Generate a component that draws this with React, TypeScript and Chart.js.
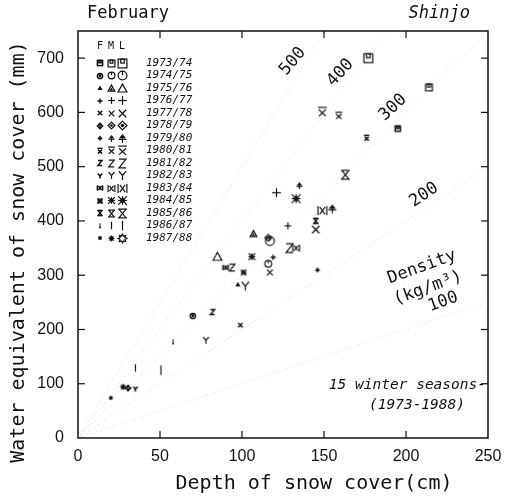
import React, { useEffect, useRef } from 'react';
import { Chart, registerables } from 'chart.js';
Chart.register(...registerables);

// ---- data ----
const seasons = ['1973/74','1974/75','1975/76','1976/77','1977/78','1978/79','1979/80','1980/81','1981/82','1982/83','1983/84','1984/85','1985/86','1986/87','1987/88'];
const phases = ['F', 'M', 'L'];

// observations (season index, phase index, depth cm, water equivalent mm)
const obsSeason = [0,0,0, 1,1,1, 2,2,2, 3,3,3, 4,4,4, 5,5, 6,6,6, 7,7,7, 8,8,8, 9,9,9, 10,10,10, 11,11,11, 12,12, 13,13,13, 14,14];
const obsPhase  = [2,1,0, 0,1,2, 0,1,2, 0,1,2, 0,1,2, 0,1, 0,1,2, 0,1,2, 0,1,2, 0,1,2, 0,1,2, 0,1,2, 0,2, 0,1,2, 0,1];
const obsDepth  = [177,214,195, 70,116,117, 97.5,107,85, 119,128,121, 99,117,145, 30.5,116, 146,135,155, 176,159,149, 82,94,129, 35,78,102, 90,133,149, 101,106,133, 145,163, 58,35,50.6, 20,27.5];
const obsSWE    = [700,646,570, 225,321,363, 283,376,334, 333,391,452, 208,305,384, 92,369, 310,465,422, 553,594,601, 232,314,350, 90,180,280, 314,350,419, 305,334,441, 400,485, 177,129,125, 74,94];

const xTicks = [0, 50, 100, 150, 200, 250];
const yTicks = [0, 100, 200, 300, 400, 500, 600, 700];
const densities = [100, 200, 300, 400, 500];
// density label anchor (depth, swe) and rotation (deg)
const densLabelDepth = [222.6, 211, 192, 160, 131];
const densLabelSWE = [251, 448, 609, 673, 694];
const densLabelRot = [-20, -34, -43, -47, -50];

const MONO = '"DejaVu Sans Mono", monospace';
const SANS = '"Liberation Sans", Arial, sans-serif';

function makeGlyph(type: number, phase: number): HTMLCanvasElement {
  const s = [2.6, 3.4, 4.4][phase];
  const size = Math.ceil(2 * s + 6);
  const c = document.createElement('canvas');
  c.width = size; c.height = size;
  const g = c.getContext('2d')!;
  g.translate(size / 2, size / 2);
  g.strokeStyle = '#111'; g.fillStyle = '#111';
  g.lineWidth = phase === 0 ? 1.5 : 1.2;
  const line = (x1: number, y1: number, x2: number, y2: number) => { g.beginPath(); g.moveTo(x1, y1); g.lineTo(x2, y2); g.stroke(); };
  switch (type) {
    case 0:
      g.strokeRect(-s, -s, 2 * s, 2 * s);
      g.strokeRect(-s * 0.4, -s, s * 0.8, s * 0.9);
      break;
    case 1:
      g.beginPath(); g.arc(0, 0, s, 0, Math.PI * 2); g.stroke();
      line(0, -s, 0, -s * 0.1);
      if (phase === 0) { g.beginPath(); g.arc(0, 0, s * 0.5, 0, Math.PI * 2); g.fill(); }
      break;
    case 2:
      g.beginPath(); g.moveTo(0, -s); g.lineTo(s, s * 0.8); g.lineTo(-s, s * 0.8); g.closePath();
      if (phase === 0) g.fill(); else g.stroke();
      if (phase === 1) { g.beginPath(); g.moveTo(0, -s * 0.3); g.lineTo(s * 0.5, s * 0.6); g.lineTo(-s * 0.5, s * 0.6); g.closePath(); g.fill(); }
      break;
    case 3:
      line(-s, 0, s, 0); line(0, -s, 0, s);
      break;
    case 4:
      line(-s * 0.85, -s * 0.85, s * 0.85, s * 0.85); line(s * 0.85, -s * 0.85, -s * 0.85, s * 0.85);
      break;
    case 5:
      g.beginPath(); g.moveTo(0, -s); g.lineTo(s, 0); g.lineTo(0, s); g.lineTo(-s, 0); g.closePath(); g.stroke();
      g.beginPath(); g.arc(0, 0, s * 0.4, 0, Math.PI * 2); g.fill();
      break;
    case 6:
      g.beginPath(); g.moveTo(0, -s); g.lineTo(s * 0.8, -s * 0.05); g.lineTo(-s * 0.8, -s * 0.05); g.closePath(); g.fill();
      line(0, -s * 0.1, 0, s); line(-s * 0.9, s * 0.2, s * 0.9, s * 0.2);
      break;
    case 7:
      line(-s, -s, s, -s);
      line(-s * 0.8, -s * 0.5, s * 0.8, s); line(s * 0.8, -s * 0.5, -s * 0.8, s);
      break;
    case 8:
      g.beginPath(); g.moveTo(-s * 0.8, -s); g.lineTo(s * 0.8, -s); g.lineTo(-s * 0.8, s); g.lineTo(s * 0.8, s); g.stroke();
      break;
    case 9:
      line(-s * 0.85, -s, 0, 0); line(s * 0.85, -s, 0, 0); line(0, 0, 0, s);
      break;
    case 10:
      line(-s * 0.6, -s * 0.8, s * 0.6, s * 0.8); line(s * 0.6, -s * 0.8, -s * 0.6, s * 0.8);
      line(-s, -s, -s, s); line(s, -s, s, s);
      break;
    case 11:
      line(-s, 0, s, 0); line(0, -s, 0, s);
      line(-s, -s, s, s); line(s, -s, -s, s);
      g.fillRect(-s * 0.5, -s * 0.5, s, s);
      break;
    case 12:
      line(-s, -s, s, -s); line(-s, s, s, s);
      line(-s * 0.8, -s, s * 0.8, s); line(s * 0.8, -s, -s * 0.8, s);
      break;
    case 13:
      if (phase === 0) { line(0, -s, 0, -s * 0.5); line(0, -s * 0.2, 0, s); }
      else line(0, -s * 1.1, 0, s * 1.1);
      break;
    case 14: {
      g.beginPath();
      for (let k = 0; k < 16; k++) {
        const r = k % 2 === 0 ? s : s * 0.6;
        const a = (k * Math.PI) / 8;
        const px = r * Math.cos(a), py = r * Math.sin(a);
        if (k === 0) g.moveTo(px, py); else g.lineTo(px, py);
      }
      g.closePath();
      if (phase === 2) g.stroke(); else g.fill();
      break;
    }
  }
  return c;
}

export default function App() {
  const ref = useRef<HTMLCanvasElement | null>(null);
  useEffect(() => {
    if (!ref.current) return;
    const glyphs = seasons.map((_, i) => phases.map((__, p) => makeGlyph(i, p)));

    const datasets: any[] = [];
    densities.forEach((d) => {
      const xEnd = Math.min(250, (750 * 100) / d);
      datasets.push({
        type: 'line', data: [{ x: 0, y: 0 }, { x: xEnd, y: (d * xEnd) / 100 }],
        borderColor: '#d6d6d6', borderWidth: 1, borderDash: [1, 3], pointRadius: 0, fill: false,
      });
    });
    for (let k = 0; k < obsDepth.length; k++) {
      datasets.push({
        type: 'scatter',
        data: [{ x: obsDepth[k], y: obsSWE[k] }],
        pointStyle: glyphs[obsSeason[k]][obsPhase[k]],
        pointRadius: 5,
      });
    }

    const overlay = {
      id: 'overlay',
      afterDraw(chart: any) {
        const { ctx, chartArea: a, scales } = chart;
        const xs = scales.x, ys = scales.y;
        ctx.save();
        // frame
        ctx.strokeStyle = '#111'; ctx.lineWidth = 1.5;
        ctx.strokeRect(a.left, a.top, a.right - a.left, a.bottom - a.top);
        // inward ticks
        ctx.lineWidth = 1.2;
        xTicks.slice(1, -1).forEach((v) => {
          const px = xs.getPixelForValue(v);
          ctx.beginPath(); ctx.moveTo(px, a.bottom); ctx.lineTo(px, a.bottom - 7); ctx.stroke();
          ctx.beginPath(); ctx.moveTo(px, a.top); ctx.lineTo(px, a.top + 7); ctx.stroke();
        });
        yTicks.slice(1).forEach((v) => {
          const py = ys.getPixelForValue(v);
          ctx.beginPath(); ctx.moveTo(a.left, py); ctx.lineTo(a.left + 7, py); ctx.stroke();
          ctx.beginPath(); ctx.moveTo(a.right, py); ctx.lineTo(a.right - 7, py); ctx.stroke();
        });
        ctx.fillStyle = '#111';
        // titles
        ctx.textBaseline = 'middle';
        ctx.font = `17px ${MONO}`;
        ctx.textAlign = 'left';
        ctx.fillText('February', a.left + 9, a.top - 17);
        ctx.font = `italic 17px ${MONO}`;
        ctx.textAlign = 'right';
        ctx.fillText('Shinjo', a.right - 18, a.top - 17);
        ctx.font = `20px ${MONO}`;
        ctx.textAlign = 'center';
        ctx.fillText('Depth of snow cover(cm)', 314, a.bottom + 46);
        ctx.save();
        ctx.translate(19, 252);
        ctx.rotate(-Math.PI / 2);
        ctx.fillText('Water equivalent of snow cover (mm)', 0, 0);
        ctx.restore();
        // notes
        ctx.font = `italic 14.5px ${MONO}`;
        ctx.textAlign = 'right';
        ctx.fillText('15 winter seasons-', a.right - 2, ys.getPixelForValue(98));
        ctx.textAlign = 'center';
        ctx.fillText('(1973-1988)', 417, ys.getPixelForValue(61));
        // density
        ctx.font = `17px ${MONO}`;
        const drawRot = (t: string, x: number, y: number, deg: number) => {
          ctx.save(); ctx.translate(x, y); ctx.rotate((deg * Math.PI) / 180); ctx.fillText(t, 0, 0); ctx.restore();
        };
        drawRot('Density', 422, 267, -20);
        drawRot('(kg/m³)', 428, 288, -20);
        densities.forEach((d, i) => {
          drawRot(String(d), xs.getPixelForValue(densLabelDepth[i]), ys.getPixelForValue(densLabelSWE[i]), densLabelRot[i]);
        });
        // legend
        const lx0 = a.left + 22, dx = 11, ly0 = a.top + 32, dy = 12.5;
        ctx.font = `10px ${MONO}`;
        ctx.textAlign = 'center';
        phases.forEach((p, j) => ctx.fillText(p, lx0 + j * dx, a.top + 15));
        ctx.font = `italic 11px ${MONO}`;
        ctx.textAlign = 'left';
        seasons.forEach((sn, i) => {
          const y = ly0 + i * dy;
          phases.forEach((_, j) => {
            const gimg = glyphs[i][j];
            ctx.drawImage(gimg, Math.round(lx0 + j * dx - gimg.width / 2), Math.round(y - gimg.height / 2));
          });
          ctx.fillText(sn, a.left + 68, y);
        });
        ctx.restore();
      },
    };

    const chart = new Chart(ref.current, {
      type: 'scatter',
      data: { datasets },
      options: {
        animation: false,
        responsive: true,
        maintainAspectRatio: false,
        layout: { padding: { left: 0, right: 24, top: 31, bottom: 0 } },
        plugins: { legend: { display: false }, tooltip: { enabled: false } },
        scales: {
          x: {
            type: 'linear', min: 0, max: 250,
            afterBuildTicks: (sc: any) => { sc.ticks = xTicks.map((v) => ({ value: v })); },
            afterFit: (sc: any) => { sc.height = 59; },
            grid: { display: false, drawTicks: false },
            border: { display: false },
            ticks: { padding: 9, color: '#111', font: { family: SANS, size: 16 }, maxRotation: 0 },
          },
          y: {
            type: 'linear', min: 0, max: 750,
            afterBuildTicks: (sc: any) => { sc.ticks = yTicks.map((v) => ({ value: v })); },
            afterFit: (sc: any) => { sc.width = 78; },
            grid: { display: false, drawTicks: false },
            border: { display: false },
            ticks: { padding: 14, color: '#111', font: { family: SANS, size: 16 } },
          },
        },
      },
      plugins: [overlay],
    });
    return () => chart.destroy();
  }, []);
  return (
    <div style={{ position: 'absolute', left: 0, top: 0, width: 512, height: 497 }}>
      <canvas ref={ref} />
    </div>
  );
}
